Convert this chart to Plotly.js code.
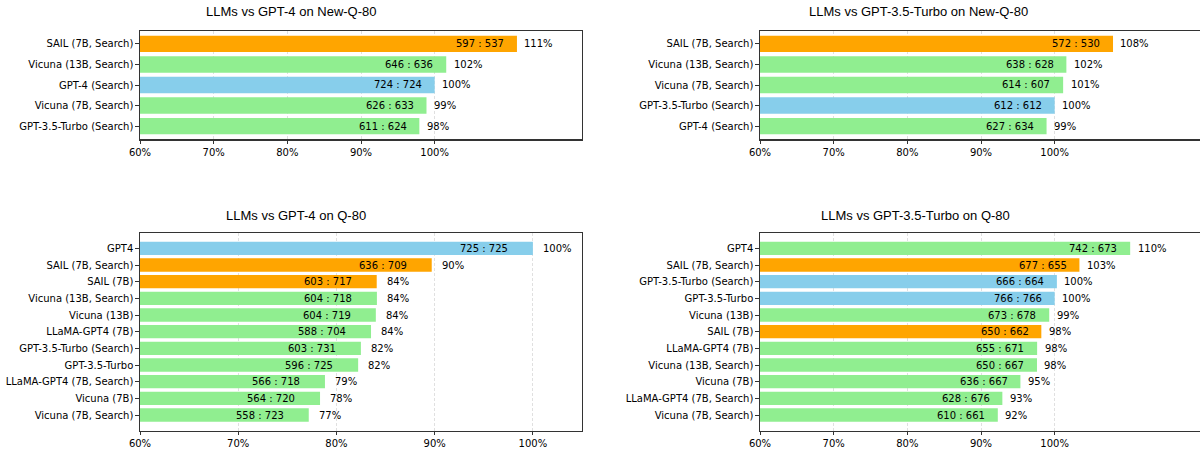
<!DOCTYPE html>
<html>
<head>
<meta charset="utf-8">
<script src="https://cdn.plot.ly/plotly-3.0.1.min.js"></script>
<style>
html,body{margin:0;padding:0;overflow:hidden;background:#fff;}
#chart{width:1204px;height:450px;}
</style>
</head>
<body>
<div id="chart"></div>
<script>
// ---------- DATA ----------
// Panel 1: LLMs vs GPT-4 on New-Q-80 (top to bottom)
const p1Title = "LLMs vs GPT-4 on New-Q-80";
const p1Models = ["SAIL (7B, Search)", "Vicuna (13B, Search)", "GPT-4 (Search)", "Vicuna (7B, Search)", "GPT-3.5-Turbo (Search)"];
const p1ScoreA = [597, 646, 724, 626, 611];
const p1ScoreB = [537, 636, 724, 633, 624];
const p1Pct = [111.17, 101.57, 100.0, 98.89, 97.92];
const p1Baseline = ["GPT-4 (Search)"];

// Panel 2: LLMs vs GPT-3.5-Turbo on New-Q-80
const p2Title = "LLMs vs GPT-3.5-Turbo on New-Q-80";
const p2Models = ["SAIL (7B, Search)", "Vicuna (13B, Search)", "Vicuna (7B, Search)", "GPT-3.5-Turbo (Search)", "GPT-4 (Search)"];
const p2ScoreA = [572, 638, 614, 612, 627];
const p2ScoreB = [530, 628, 607, 612, 634];
const p2Pct = [107.92, 101.59, 101.15, 100.0, 98.90];
const p2Baseline = ["GPT-3.5-Turbo (Search)"];

// Panel 3: LLMs vs GPT-4 on Q-80
const p3Title = "LLMs vs GPT-4 on Q-80";
const p3Models = ["GPT4", "SAIL (7B, Search)", "SAIL (7B)", "Vicuna (13B, Search)", "Vicuna (13B)", "LLaMA-GPT4 (7B)", "GPT-3.5-Turbo (Search)", "GPT-3.5-Turbo", "LLaMA-GPT4 (7B, Search)", "Vicuna (7B)", "Vicuna (7B, Search)"];
const p3ScoreA = [725, 636, 603, 604, 604, 588, 603, 596, 566, 564, 558];
const p3ScoreB = [725, 709, 717, 718, 719, 704, 731, 725, 718, 720, 723];
const p3Pct = [100.0, 89.70, 84.10, 84.12, 84.01, 83.52, 82.49, 82.21, 78.83, 78.33, 77.18];
const p3Baseline = ["GPT4"];

// Panel 4: LLMs vs GPT-3.5-Turbo on Q-80
const p4Title = "LLMs vs GPT-3.5-Turbo on Q-80";
const p4Models = ["GPT4", "SAIL (7B, Search)", "GPT-3.5-Turbo (Search)", "GPT-3.5-Turbo", "Vicuna (13B)", "SAIL (7B)", "LLaMA-GPT4 (7B)", "Vicuna (13B, Search)", "Vicuna (7B)", "LLaMA-GPT4 (7B, Search)", "Vicuna (7B, Search)"];
const p4ScoreA = [742, 677, 666, 766, 673, 650, 655, 650, 636, 628, 610];
const p4ScoreB = [673, 655, 664, 766, 678, 662, 671, 667, 667, 676, 661];
const p4Pct = [110.25, 103.36, 100.30, 100.0, 99.26, 98.19, 97.62, 97.60, 95.35, 92.90, 92.28];
const p4Baseline = ["GPT-3.5-Turbo (Search)", "GPT-3.5-Turbo"];

const xTickVals = [60, 70, 80, 90, 100];

// ---------- STYLE / LAYOUT ----------
const W = 1204, H = 450;
const COL_SAIL = "#FFA500", COL_BASE = "#87CEEB", COL_OTHER = "#90EE90";
const TICKFONT = {family: "DejaVu Sans", size: 10, color: "#000"};
const TITLEFONT = {family: "Liberation Sans", size: 13, color: "#000"};

const panels = [
  {title: p1Title, models: p1Models, a: p1ScoreA, b: p1ScoreB, pct: p1Pct, base: p1Baseline,
   box: [140, 582, 30.7, 139.3], xr: [60, 120], tcx: 291, tcy: 12},
  {title: p2Title, models: p2Models, a: p2ScoreA, b: p2ScoreB, pct: p2Pct, base: p2Baseline,
   box: [760, 1202, 30.7, 139.3], xr: [60, 120], tcx: 918, tcy: 12},
  {title: p3Title, models: p3Models, a: p3ScoreA, b: p3ScoreB, pct: p3Pct, base: p3Baseline,
   box: [140, 582, 232.7, 430.7], xr: [60, 105], tcx: 296, tcy: 215},
  {title: p4Title, models: p4Models, a: p4ScoreA, b: p4ScoreB, pct: p4Pct, base: p4Baseline,
   box: [760, 1202, 232.7, 430.7], xr: [60, 120], tcx: 915, tcy: 215}
];

const data = [];
const annotations = [];
const layout = {
  width: W, height: H,
  margin: {l: 0, r: 0, t: 0, b: 0},
  paper_bgcolor: "#fff", plot_bgcolor: "#fff",
  showlegend: false,
  font: TICKFONT
};

panels.forEach((p, i) => {
  const n = i + 1;
  const xa = "x" + (n === 1 ? "" : n), ya = "y" + (n === 1 ? "" : n);
  const xk = "xaxis" + (n === 1 ? "" : n), yk = "yaxis" + (n === 1 ? "" : n);
  const colors = p.models.map(m => p.base.includes(m) ? COL_BASE : (m.startsWith("SAIL") ? COL_SAIL : COL_OTHER));
  data.push({
    type: "bar", orientation: "h",
    x: p.pct, y: p.models,
    base: 0,
    width: 0.8,
    marker: {color: colors, line: {width: 0}},
    xaxis: xa, yaxis: ya,
    hoverinfo: "skip"
  });
  const [x0, x1, y0, y1] = p.box;
  const nCat = p.models.length;
  layout[xk] = {
    domain: [x0 / W, x1 / W],
    anchor: ya,
    range: p.xr,
    tickvals: xTickVals,
    ticktext: xTickVals.map(v => v + "%"),
    ticks: "outside", ticklen: 3.5, tickwidth: 1, tickcolor: "#333",
    tickfont: TICKFONT,
    showline: true, mirror: true, linecolor: "#333", linewidth: 1.2,
    showgrid: true, gridcolor: "#d8d8d8", gridwidth: 0.8, griddash: "3px,2px",
    zeroline: false, fixedrange: true
  };
  layout[yk] = {
    domain: [1 - y1 / H, 1 - y0 / H],
    anchor: xa,
    type: "category",
    categoryorder: "array", categoryarray: p.models,
    range: [nCat - 1 + 0.4 + 0.05 * (nCat - 0.2), -0.4 - 0.05 * (nCat - 0.2)],
    ticks: "outside", ticklen: 3.5, tickwidth: 1, tickcolor: "#333",
    tickfont: TICKFONT,
    showline: true, mirror: true, linecolor: "#333", linewidth: 1.2,
    showgrid: false, zeroline: false, fixedrange: true
  };
  p.models.forEach((m, j) => {
    annotations.push({
      xref: xa, yref: ya, x: p.pct[j] - 5, y: m,
      text: p.a[j] + " : " + p.b[j],
      showarrow: false, xanchor: "center", yanchor: "middle",
      font: TICKFONT
    });
    annotations.push({
      xref: xa, yref: ya, x: p.pct[j] + 1, y: m,
      text: Math.round(p.pct[j]) + "%",
      showarrow: false, xanchor: "left", yanchor: "middle", xshift: -2,
      font: TICKFONT
    });
  });
  annotations.push({
    xref: "paper", yref: "paper", x: p.tcx / W, y: 1 - p.tcy / H,
    text: p.title, showarrow: false, xanchor: "center", yanchor: "middle",
    font: TITLEFONT
  });
});
layout.annotations = annotations;

Plotly.newPlot("chart", data, layout, {displayModeBar: false, staticPlot: true});
</script>
</body>
</html>
